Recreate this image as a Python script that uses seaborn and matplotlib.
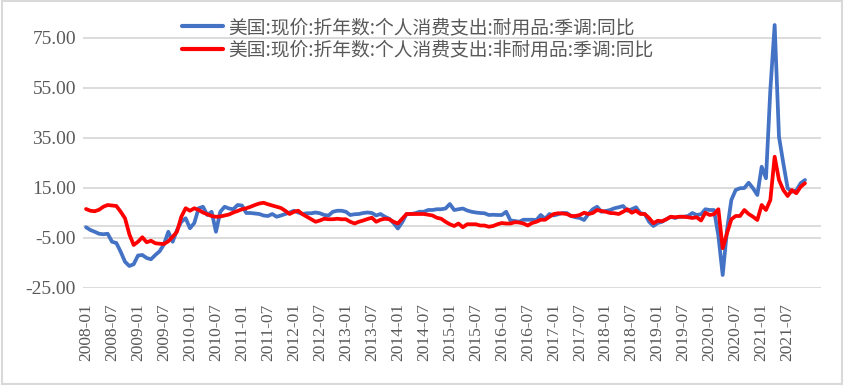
import matplotlib
matplotlib.use("Agg")
import matplotlib.pyplot as plt
from matplotlib.font_manager import FontProperties
from matplotlib.patches import Rectangle
import numpy as np
import pandas as pd
import seaborn as sns

# monthly, 2008-01 .. 2021-11
durable = [
    -0.7, -1.8, -2.5, -3.3, -3.5, -3.3, -6.5, -7.0, -10.5, -14.5, -16.2, -15.5,
    -12.0, -11.8, -13.0, -13.5, -11.8, -10.3, -7.5, -2.5, -6.5, -1.8, 1.5, 2.9,
    -1.1, 1.0, 6.9, 7.5, 4.2, 5.5, -2.5, 5.5, 7.5, 6.8, 6.5, 8.2,
    8.0, 5.0, 5.0, 4.8, 4.6, 4.0, 3.8, 4.6, 3.5, 4.0, 4.6, 5.2,
    5.9, 5.2, 4.6, 4.9, 4.9, 5.2, 4.9, 4.2, 4.0, 5.5, 5.9, 5.9,
    5.5, 4.2, 4.5, 4.6, 5.0, 5.2, 5.0, 4.0, 4.6, 3.5, 2.7, 1.0,
    -1.2, 1.3, 4.6, 4.6, 4.9, 5.5, 5.5, 6.2, 6.2, 6.5, 6.5, 6.8,
    8.6, 6.2, 6.5, 6.8, 6.0, 5.5, 5.2, 5.0, 4.9, 4.2, 4.3, 4.2,
    4.2, 5.5, 2.0, 1.8, 1.5, 2.3, 2.3, 2.3, 2.2, 4.2, 2.7, 4.6,
    4.0, 4.5, 5.0, 5.0, 3.8, 3.3, 3.0, 2.2, 4.6, 6.5, 7.5, 5.5,
    5.8, 6.2, 6.9, 7.3, 7.8, 5.9, 6.5, 7.3, 4.9, 4.6, 1.5, -0.2,
    1.0, 1.5, 2.5, 3.5, 3.0, 3.5, 3.5, 3.8, 5.0, 4.2, 4.5, 6.5,
    6.2, 6.2, -4.0, -19.8, -1.8, 10.2, 14.2, 14.9, 15.0, 17.1, 14.9, 12.2,
    23.5, 18.9, 54.2, 80.2, 35.5, 24.9, 14.9, 13.5, 14.0, 16.9, 18.2,
]
nondurable = [
    6.6, 5.9, 5.7, 6.3, 7.5, 8.2, 8.0, 7.8, 5.5, 2.9, -3.5, -7.8,
    -6.5, -4.7, -6.7, -6.1, -7.1, -7.3, -7.4, -6.3, -4.5, -2.5, 3.5, 6.9,
    5.9, 6.9, 6.2, 5.2, 4.5, 3.8, 3.5, 3.6, 4.0, 4.4, 5.2, 5.8,
    6.5, 6.9, 7.5, 8.2, 8.8, 9.1, 8.5, 8.0, 7.5, 7.0, 5.9, 4.6,
    5.5, 5.9, 4.5, 3.5, 2.5, 1.5, 2.0, 2.7, 2.5, 2.5, 2.7, 2.5,
    2.5, 1.5, 0.8, 1.5, 2.0, 2.6, 3.1, 1.5, 2.3, 2.7, 2.5, 1.5,
    0.8, 2.7, 4.6, 4.6, 4.6, 4.6, 4.6, 4.3, 4.0, 3.1, 2.7, 1.5,
    0.5, -0.2, 0.8, -0.7, 0.5, 0.5, 0.5, 0.0, 0.0, -0.5, -0.2, 0.5,
    1.0, 0.8, 0.8, 1.3, 1.2, 0.8, 0.0, 1.0, 1.5, 2.3, 2.3, 3.5,
    4.6, 4.9, 4.8, 4.6, 3.8, 3.8, 4.2, 5.1, 4.6, 5.0, 6.2, 5.8,
    5.5, 5.0, 4.9, 4.6, 5.5, 6.5, 5.1, 5.9, 4.6, 4.6, 3.0, 0.9,
    1.9, 1.7, 2.5, 3.5, 3.3, 3.5, 3.5, 3.3, 3.0, 3.3, 2.0, 5.1,
    4.2, 4.5, 6.5, -9.1, -3.1, 2.5, 3.8, 3.8, 6.2, 4.6, 3.5, 2.2,
    8.2, 6.2, 10.2, 27.5, 18.2, 14.2, 11.8, 14.2, 12.9, 15.5, 16.9,
]
series_names = [
    "美国:现价:折年数:个人消费支出:耐用品:季调:同比",
    "美国:现价:折年数:个人消费支出:非耐用品:季调:同比",
]
months = pd.period_range("2008-01", periods=len(durable), freq="M").strftime("%Y-%m")
y_ticks = [-25, -5, 15, 35, 55, 75]

df = pd.DataFrame({"idx": np.arange(len(durable)), "month": months,
                   series_names[0]: durable, series_names[1]: nondurable})
long_df = df.melt(id_vars=["idx", "month"], var_name="series", value_name="value")

sns.set_style("white")
grey = "#595959"
grid_c = "#D9D9D9"

fig = plt.figure(figsize=(8.44, 3.85), dpi=100)
ax = fig.add_axes([83 / 844, 1 - 288 / 385, (821 - 83) / 844, 288 / 385])

for y in y_ticks:
    ax.axhline(y, color=grid_c, lw=1.3, zorder=0)
ax.axhline(0, color=grid_c, lw=1.3, zorder=0)

sns.lineplot(data=long_df, x="idx", y="value", hue="series",
             palette=["#4472C4", "#FF0000"], linewidth=2.7, ax=ax)

ax.set_xlim(-0.7, 169.7)
ax.set_ylim(-25, 90.2)
ax.set_yticks(y_ticks)
ax.set_yticklabels([f"{v:.2f}" for v in y_ticks], fontfamily="Liberation Serif",
                   fontsize=14, color=grey)
tick_pos = list(range(0, len(durable), 6))
ax.set_xticks(tick_pos)
ax.set_xticklabels([months[i] for i in tick_pos], rotation=90, fontfamily="Liberation Serif",
                   fontsize=12.5, color=grey)
ax.tick_params(axis="both", length=0)
ax.tick_params(axis="x", pad=11)
ax.tick_params(axis="y", pad=5)
ax.set_xlabel("")
ax.set_ylabel("")
for s in ax.spines.values():
    s.set_visible(False)

handles, labels = ax.get_legend_handles_labels()
leg = ax.legend(handles, labels, loc="upper left", bbox_to_anchor=(182 / 844, 1 - 17 / 385),
                bbox_transform=fig.transFigure, frameon=False, borderpad=0, borderaxespad=0,
                handlelength=2.2, handletextpad=0.25, labelspacing=0.08,
                prop=FontProperties(family="Noto Sans CJK SC", size=13.5))
for t in leg.get_texts():
    t.set_color(grey)
for h in leg.get_lines():
    h.set_linewidth(3)

fig.patches.append(Rectangle((0.002, 0.003), 0.996, 0.994, transform=fig.transFigure,
                             fill=False, edgecolor=grid_c, lw=1.5))

fig.savefig("out.png", dpi=100)
